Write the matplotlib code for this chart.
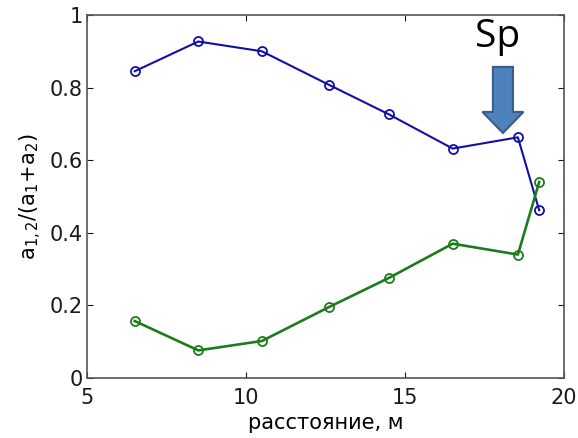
import matplotlib
matplotlib.use("Agg")
import matplotlib.pyplot as plt
from matplotlib.patches import FancyArrow

x = [6.5, 8.5, 10.5, 12.6, 14.5, 16.5, 18.55, 19.22]
blue = [0.845, 0.927, 0.900, 0.808, 0.726, 0.632, 0.663, 0.462]
green = [0.157, 0.076, 0.102, 0.195, 0.276, 0.370, 0.340, 0.540]
xticks = [5, 10, 15, 20]
yticks = [0, 0.2, 0.4, 0.6, 0.8, 1]
ytick_labels = ["0", "0.2", "0.4", "0.6", "0.8", "1"]

plt.rcParams['font.family'] = ['DejaVu Sans']
plt.rcParams['mathtext.fontset'] = 'dejavusans'

fig = plt.figure(figsize=(5.78, 4.38), dpi=100)
ax = fig.add_axes([87/578, 1 - 378/438, (564-87)/578, (378-15)/438])

ax.plot(x, blue, '-o', color='#1010a8', lw=1.5, ms=6.5, mfc='none', mew=1.3)
ax.plot(x, green, '-o', color='#1c7c1c', lw=1.9, ms=6.5, mfc='none', mew=1.3)

ax.set_xlim(5, 20)
ax.set_ylim(0, 1)
ax.set_xticks(xticks)
ax.set_yticks(yticks)
ax.set_yticklabels(ytick_labels)
ax.tick_params(direction='in', labelsize=15, length=4, colors='#1a1a1a', pad=3,
               top=True, right=True)
ax.tick_params(axis='x', pad=7)
for s in ax.spines.values():
    s.set_color('#555555')
    s.set_linewidth(1.2)
ax.set_xlabel('расстояние, м', fontsize=15, labelpad=4)
ax.set_ylabel('a$_{1,2}$/(a$_1$+a$_2$)', fontsize=15, labelpad=4)

# arrow and label (in data coords)
arr = FancyArrow(18.08, 0.857, 0, -0.124, width=0.63, head_width=1.29, head_length=0.058,
                 length_includes_head=False, facecolor='#4f81bd', edgecolor='#385d8a',
                 lw=1.5, transform=ax.transData, clip_on=False, zorder=5)
ax.add_patch(arr)
ax.text(17.92, 0.912, 'Sp', fontsize=28, ha='center', va='baseline',
        family=['Open Sans', 'DejaVu Sans'])

fig.savefig('out.png', dpi=100)
